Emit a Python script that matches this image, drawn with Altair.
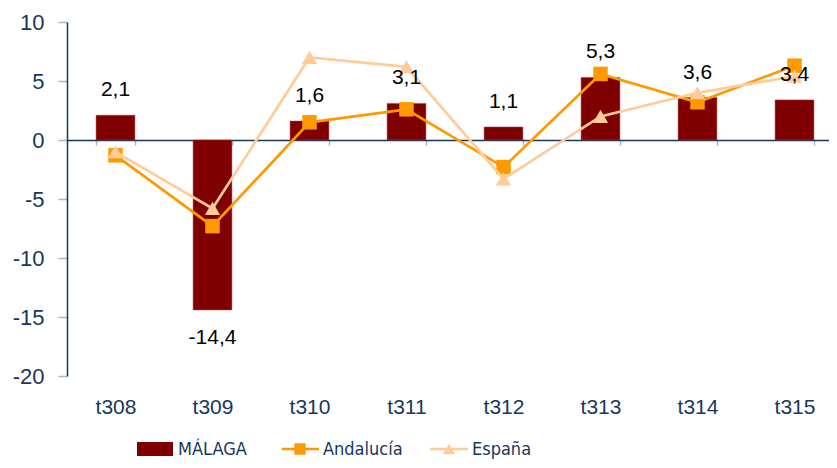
import altair as alt
import pandas as pd

cats = ["t308", "t309", "t310", "t311", "t312", "t313", "t314", "t315"]
malaga = [2.1, -14.4, 1.6, 3.1, 1.1, 5.3, 3.6, 3.4]
andalucia = [-1.3, -7.3, 1.5, 2.6, -2.3, 5.6, 3.2, 6.3]
espana = [-1.0, -5.8, 7.0, 6.2, -3.3, 2.0, 4.0, 5.4]

NAVY = "#17375E"
TICK = "#A6B6CC"
C_MAL = "#800000"
C_AND = "#FF9900"
C_ESP = "#FFCC99"
FONT = "Liberation Sans"
NFONT = "'Liberation Sans Narrow', 'Arial Narrow', 'DejaVu Sans Condensed', 'Roboto Condensed', 'Liberation Sans', sans-serif"

df = pd.DataFrame({"t": cats, "malaga": malaga, "andalucia": andalucia, "espana": espana})
df["lab"] = [f"{v:.1f}".replace(".", ",") for v in malaga]

PL, PT = 59, 14
W, H = 821 - PL, 354
XR = 776  # full band range (extends slightly past the visible edge, as in the reference)
zero_px = H * 10 / 30

x = alt.X(
    "t:N", sort=cats, title=None,
    scale=alt.Scale(paddingInner=0.6, paddingOuter=0.3, range=[0, XR]),
    axis=alt.Axis(
        orient="bottom", offset=-(H - zero_px), domainColor=NAVY, domainWidth=1.5,
        tickBand="extent", tickColor=TICK, tickSize=5, tickWidth=1.5,
        labelColor=NAVY, labelFont=FONT, labelFontSize=21, labelPadding=251,
        labelBaseline="top", labelAngle=0,
    ),
)
xs = alt.X("t:N", sort=cats)
yscale = alt.Scale(domain=[-20, 10], nice=False, zero=False)
yaxis = alt.Axis(
    values=[-20, -15, -10, -5, 0, 5, 10], grid=False, domainColor=NAVY, domainWidth=1.5,
    tickColor=TICK, tickSize=9, tickWidth=1.5, labelColor=NAVY, labelFont=FONT,
    labelFontSize=22, labelPadding=14, labelExpr="toString(datum.value)",
)

base = alt.Chart(df)
bars = base.mark_bar(color=C_MAL, stroke="#9E3A3A", strokeWidth=0.5).encode(
    x=x, y=alt.Y("malaga:Q", scale=yscale, axis=yaxis, title=None)
)
line_and = base.mark_line(color=C_AND, strokeWidth=2.7).encode(x=xs, y="andalucia:Q")
pts_and = base.mark_point(shape="square", filled=True, color=C_AND, size=210, opacity=1).encode(
    x=xs, y="andalucia:Q")
line_esp = base.mark_line(color=C_ESP, strokeWidth=2.7).encode(x=xs, y="espana:Q")
pts_esp = base.mark_point(shape="triangle-up", filled=True, color=C_ESP, size=230, opacity=1).encode(
    x=xs, y="espana:Q")

lab_pos = base.transform_filter("datum.malaga >= 0").mark_text(
    font=FONT, fontSize=21, color="black", baseline="bottom", dy=-15
).encode(x=xs, y="malaga:Q", text="lab:N")
lab_neg = base.transform_filter("datum.malaga < 0").mark_text(
    font=FONT, fontSize=21, color="black", baseline="top", dy=17
).encode(x=xs, y="malaga:Q", text="lab:N")

# legend (manual, below the plot)
leg_names = ["MÁLAGA", "Andalucía", "España"]
leg = pd.DataFrame({"name": leg_names})
LY = 427
leg_rect = alt.Chart(leg).transform_filter("datum.name == 'MÁLAGA'").mark_rect(color=C_MAL).encode(
    x=alt.value(70), x2=alt.value(106), y=alt.value(LY - 7), y2=alt.value(LY + 7))
leg_l1 = alt.Chart(leg).transform_filter("datum.name == 'Andalucía'").mark_rule(color=C_AND, strokeWidth=2.7).encode(
    x=alt.value(215), x2=alt.value(252), y=alt.value(LY))
leg_p1 = alt.Chart(leg).transform_filter("datum.name == 'Andalucía'").mark_point(
    shape="square", filled=True, color=C_AND, size=130, opacity=1).encode(x=alt.value(233), y=alt.value(LY))
leg_l2 = alt.Chart(leg).transform_filter("datum.name == 'España'").mark_rule(color=C_ESP, strokeWidth=2.7).encode(
    x=alt.value(363), x2=alt.value(401), y=alt.value(LY))
leg_p2 = alt.Chart(leg).transform_filter("datum.name == 'España'").mark_point(
    shape="triangle-up", filled=True, color=C_ESP, size=150, opacity=1).encode(x=alt.value(382), y=alt.value(LY))
leg_x = {"MÁLAGA": 111, "Andalucía": 256, "España": 405}
leg["lx"] = [leg_x[n] for n in leg_names]
leg_txt = alt.Chart(leg).mark_text(
    font=NFONT, fontSize=18, color=NAVY, align="left", baseline="middle"
).encode(x=alt.X("lx:Q", scale=None), y=alt.value(LY + 1), text="name:N")

chart = alt.layer(
    bars, line_and, pts_and, line_esp, pts_esp, lab_pos, lab_neg,
    leg_rect, leg_l1, leg_p1, leg_l2, leg_p2, leg_txt,
).properties(
    width=W, height=H,
    autosize=alt.AutoSizeParams(type="none"),
    padding={"left": PL, "top": PT, "right": 0, "bottom": 452 - PT - H},
).configure_view(stroke=None)

chart.save("out.html", embed_options={"renderer": "svg", "actions": False})
